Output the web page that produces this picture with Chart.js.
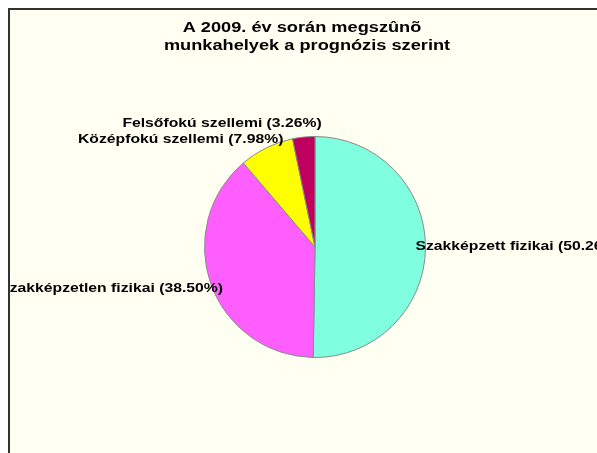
<!DOCTYPE html>
<html>
<head>
<meta charset="utf-8">
<script src="https://cdn.jsdelivr.net/npm/chart.js@4.4.1/dist/chart.umd.min.js"></script>
<style>
  html, body { margin: 0; padding: 0; background: #ffffff; }
  #wrap { width: 597px; height: 453px; position: relative; }
</style>
</head>
<body>
<div id="wrap"><canvas id="pie"></canvas></div>
<script>
// chart data
const titleLines = ['A 2009. év során megszûnõ', 'munkahelyek a prognózis szerint'];
const categories = ['Szakképzett fizikai', 'Szakképzetlen fizikai', 'Középfokú szellemi', 'Felsőfokú szellemi'];
const shares = [50.26, 38.50, 7.98, 3.26];

// styling
const sliceColors = ['#80ffe0', '#ff5eff', '#ffff00', '#c0005f'];
const frameColor = '#333333';
const paperColor = '#fffff2';
// where each label sits relative to its slice edge point
const labelPlacement = [
  { dx: -10, dy: -1, align: 'left' },
  { dx: 12, dy: 4, align: 'right' },
  { dx: 17, dy: -8, align: 'right' },
  { dx: 18, dy: -14, align: 'right' }
];

const FRAME = 8;

// paper background + the frame line on the left and top
const paperPlugin = {
  id: 'paper',
  beforeDraw(chart) {
    const ctx = chart.ctx;
    const w = chart.width, h = chart.height;
    ctx.save();
    ctx.fillStyle = '#ffffff';
    ctx.fillRect(0, 0, w, h);
    ctx.fillStyle = paperColor;
    ctx.fillRect(FRAME, FRAME, w - FRAME, h - FRAME);
    ctx.fillStyle = frameColor;
    ctx.fillRect(FRAME, FRAME, 2, h - FRAME);
    ctx.fillRect(FRAME, FRAME, w - FRAME, 2);
    ctx.restore();
  }
};

// the old export draws its text wide, so stretch it a bit sideways
function wideText(ctx, text, x, y, align, stretch) {
  ctx.save();
  ctx.translate(x, y);
  ctx.scale(stretch, 1);
  ctx.textAlign = align;
  ctx.fillText(text, 0, 0);
  ctx.restore();
}

const titlePlugin = {
  id: 'wideTitle',
  afterDraw(chart) {
    const ctx = chart.ctx;
    ctx.save();
    ctx.fillStyle = '#000000';
    ctx.font = 'bold 14px "Liberation Sans", Arial, sans-serif';
    ctx.textBaseline = 'alphabetic';
    wideText(ctx, titleLines[0], 302, 32, 'center', 1.3);
    wideText(ctx, titleLines[1], 307, 50, 'center', 1.3);
    ctx.restore();
  }
};

const sliceLabelPlugin = {
  id: 'sliceLabels',
  afterDatasetsDraw(chart) {
    const ctx = chart.ctx;
    const meta = chart.getDatasetMeta(0);
    ctx.save();
    ctx.beginPath();
    ctx.rect(FRAME + 2, FRAME + 2, chart.width, chart.height);
    ctx.clip();
    ctx.fillStyle = '#000000';
    ctx.font = 'bold 13px "Liberation Sans", Arial, sans-serif';
    ctx.textBaseline = 'middle';
    meta.data.forEach((arc, i) => {
      const p = arc.getProps(['x', 'y', 'startAngle', 'endAngle', 'outerRadius'], true);
      const mid = (p.startAngle + p.endAngle) / 2;
      const ax = p.x + Math.cos(mid) * p.outerRadius;
      const ay = p.y + Math.sin(mid) * p.outerRadius;
      const place = labelPlacement[i];
      const text = categories[i] + ' (' + shares[i].toFixed(2) + '%)';
      wideText(ctx, text, ax + place.dx, ay + place.dy, place.align, 1.21);
    });
    ctx.restore();
  }
};

new Chart(document.getElementById('pie'), {
  type: 'pie',
  data: {
    labels: categories,
    datasets: [{
      data: shares,
      backgroundColor: sliceColors,
      borderColor: '#8a8a8a',
      borderWidth: 1
    }]
  },
  options: {
    responsive: true,
    maintainAspectRatio: false,
    animation: false,
    layout: {
      padding: { left: 204, right: 171, top: 136, bottom: 95 }
    },
    plugins: {
      legend: { display: false },
      title: { display: false },
      tooltip: { enabled: false }
    }
  },
  plugins: [paperPlugin, sliceLabelPlugin, titlePlugin]
});
</script>
</body>
</html>
